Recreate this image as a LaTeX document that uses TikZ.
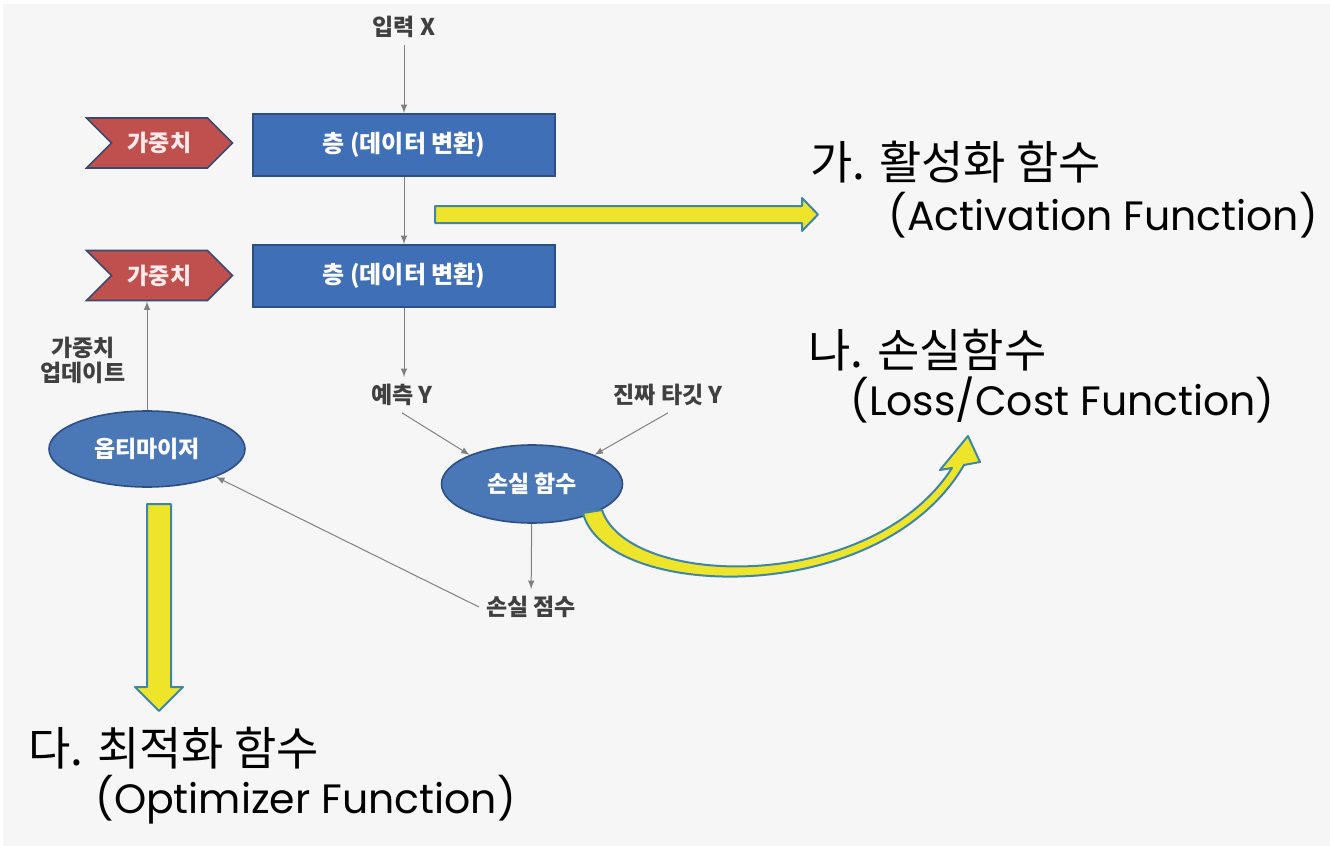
\documentclass[tikz,border=0pt]{standalone}
\usepackage{fontspec}
\setmainfont{Noto Sans CJK KR}
\newfontfamily\latinfont{Poppins}
\usepackage{tikz}
\usetikzlibrary{shapes, arrows, positioning}

\definecolor{bggray}{HTML}{F6F6F6}
\definecolor{layerblue}{HTML}{3F6FB6}
\definecolor{layeredge}{HTML}{2C4F85}
\definecolor{ovalblue}{HTML}{4A78B7}
\definecolor{weightred}{HTML}{C0504D}
\definecolor{weightedge}{HTML}{3A4A6E}
\definecolor{hiyellow}{HTML}{EEE52B}
\definecolor{hiedge}{HTML}{3E86A8}
\definecolor{linegray}{HTML}{808080}

\begin{document}
\begin{tikzpicture}[x=0.5pt, y=-0.5pt,
    layer/.style={rectangle, draw=layeredge, fill=layerblue, line width=0.8pt, minimum width=151pt, minimum height=31pt, text=white, font=\bfseries\fontsize{12}{14}\selectfont},
    weight/.style={signal, signal to=east, signal from=west, draw=weightedge, fill=weightred, line width=0.8pt, minimum width=73pt, minimum height=25pt, text=white!92!red, font=\bfseries\fontsize{11.5}{13}\selectfont},
    oval/.style={ellipse, draw=layeredge, fill=ovalblue, line width=0.8pt, inner sep=1pt, text=white, font=\bfseries\fontsize{11.5}{13}\selectfont},
    lbl/.style={text=black!75, font=\bfseries\fontsize{11.5}{12.5}\selectfont, align=center},
    title/.style={anchor=west, inner sep=0pt, font=\fontsize{23}{27}\selectfont},
    subtitle/.style={anchor=west, inner sep=0pt, font=\latinfont\fontsize{20.5}{24}\selectfont},
    arrow/.style={-latex, draw=linegray, line width=0.5pt},
    hiarrow/.style={fill=hiyellow, draw=hiedge, line width=1pt, line join=round}
]
    % background
    \fill[white] (0,0) rectangle (1330,846);
    \fill[bggray] (3,4) rectangle (1330,846);
    \useasboundingbox (0,0) rectangle (1330,846);

    % network
    \node [lbl] (inp) at (404,27) {입력 X};
    \node [layer] (layer1) at (404,145) {층 (데이터 변환)};
    \node [layer] (layer2) at (404,276) {층 (데이터 변환)};
    \node [weight] (w1) at (159.5,143) {가중치};
    \node [weight] (w2) at (159.5,275.5) {가중치};
    \node [lbl] (pred) at (402,395) {예측 Y};
    \node [lbl] (target) at (668,395) {진짜 타깃 Y};
    \node [oval, minimum width=90.5pt, minimum height=39pt] (loss) at (532,484) {손실 함수};
    \node [lbl] (score) at (531,607) {손실 점수};
    \node [oval, minimum width=98pt, minimum height=38pt] (opt) at (147,449) {옵티마이저};
    \node [lbl] (upd) at (83,360) {가중치\\업데이트};

    \draw [arrow] (inp) -- (layer1);
    \draw [arrow] (layer1) -- (layer2);
    \draw [arrow] (layer2.south) -- (layer2.south |- pred.north);
    \draw [arrow] (pred.south) -- (loss.155);
    \draw [arrow] (target.south) -- (loss.25);
    \draw [arrow] (loss) -- (score);
    \draw [arrow] (score.west) -- (opt.338);
    \draw [arrow] (opt.north) -- (opt.north |- w2.south);

    % highlight arrows
    \draw [hiarrow] (435,206) -- (802,206) -- (802,198) -- (818,214.5) -- (802,231) -- (802,223) -- (435,223) -- cycle;
    \draw [hiarrow] (147,504) -- (171,504) -- (171,687) -- (183,687) -- (159,711) -- (135,687) -- (147,687) -- cycle;
    \draw [hiarrow] (583,513) .. controls (605,600) and (880,610) .. (964,465) -- (980,462) -- (968,436) -- (940,470) -- (952,468) .. controls (870,595) and (628,588) .. (602,510) -- cycle;

    % captions
    \node [title] (act) at (810,162) {가. 활성화 함수};
    \node [subtitle] (actEn) at (888,215) {(Activation Function)};
    \node [title] (lossT) at (808,350) {나. 손실함수};
    \node [subtitle] (lossEn) at (850,400) {(Loss/Cost Function)};
    \node [title] (optT) at (28,748) {다. 최적화 함수};
    \node [subtitle] (optEn) at (95,800) {(Optimizer Function)};
\end{tikzpicture}
\end{document}
